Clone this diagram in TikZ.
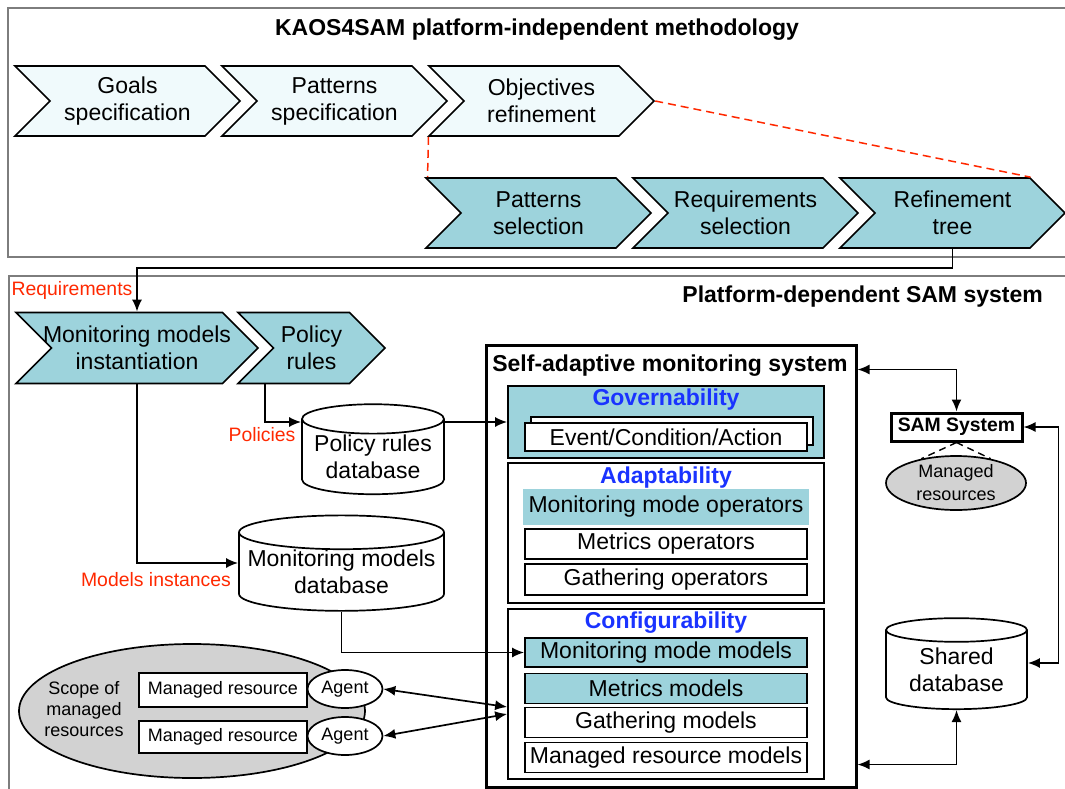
\documentclass[tikz,border=0pt]{standalone}
\usepackage{fontspec}
\setmainfont{Liberation Sans}
\usepackage{xcolor}
\usetikzlibrary{arrows.meta,positioning,shapes,shadows}

\definecolor{tealfill}{RGB}{157,211,220}
\definecolor{palefill}{RGB}{240,250,252}
\definecolor{headblue}{RGB}{26,51,255}
\definecolor{lblred}{RGB}{255,40,0}
\definecolor{framegray}{RGB}{125,125,125}
\definecolor{resgray}{RGB}{210,210,210}

\newcommand{\txtL}{\fontsize{23}{27}\selectfont}
\newcommand{\txtM}{\fontsize{19.4}{23}\selectfont}
\newcommand{\txtS}{\fontsize{18}{21}\selectfont}

\tikzset{
  chev/.style={signal, signal to=east, signal from=west, draw, minimum height=70pt, minimum width=225pt, inner sep=0pt, align=center, font=\txtL},
  box/.style={draw, rectangle, fill=white, minimum width=282pt, minimum height=30pt, inner sep=0pt, font=\txtL},
  panel/.style={draw, rectangle, minimum width=316pt, inner sep=0pt},
  db/.style={cylinder, shape border rotate=90, draw, fill=white, align=center, font=\txtL, inner sep=0pt},
  lbl/.style={text=lblred, font=\txtM},
  head/.style={text=headblue, font=\txtL\bfseries},
  small/.style={draw, fill=white, inner sep=0pt, font=\txtS},
}

\begin{document}
\begin{tikzpicture}[
    x=1pt, y=-1pt, % pixel-like units, y going down
    >={Latex[length=12pt,width=10pt]}, % filled arrow tips
    line width=1.7pt, % lines everywhere
    node distance=207pt % spacing of the chevrons
]
\useasboundingbox (0,0) rectangle (1065,789);
\clip (0,0) rectangle (1065,789);

% Frames
\draw[framegray, line width=1.5pt] (8,8) rectangle (1080,257);
\draw[framegray, line width=1.5pt] (9,276) rectangle (1080,800);

% Platform-independent part
\node[font=\txtL\bfseries] (T1) at (537,30) {KAOS4SAM platform-independent methodology};

\node[chev, fill=palefill] (GS) at (127.5,101) {Goals\\specification};
\node[chev, fill=palefill] (PS) [right of=GS] {Patterns\\specification};
\node[chev, fill=palefill] (OR) [right of=PS] {Objectives\\refinement};

\node[chev, fill=tealfill] (PSL) at (538.5,213) {Patterns\\selection};
\node[chev, fill=tealfill] (RS) [right of=PSL] {Requirements\\selection};
\node[chev, fill=tealfill] (RT) [right of=RS] {Refinement\\tree};

% Platform-dependent part
\node[font=\txtL\bfseries, anchor=east] (T2) at (1047,297) {Platform-dependent SAM system};
\node[lbl] (LR) at (72,290) {Requirements};

\node[chev, fill=tealfill, minimum width=242pt, minimum height=71pt] (MI) at (137,348) {\makebox[150pt]{Monitoring models}\\instantiation};
\node[chev, fill=tealfill, minimum width=147pt, minimum height=71pt] (PR) at (311.5,348) {Policy\\rules};

\node[db, minimum width=142pt, minimum height=90pt, aspect=0.25] (PDB) at (373,457) {Policy rules\\database};
\node[db, minimum width=205pt, minimum height=90pt, aspect=0.18] (MDB) at (341.5,572) {Monitoring models\\database};
\node[lbl] (LP) at (262,435) {Policies};
\node[lbl] (LM) at (156,580) {Models instances};

% Self-adaptive monitoring system
\node[draw, line width=3pt, minimum width=370pt, minimum height=442pt] (SAMS) at (671,566) {};
\node[font=\txtL\bfseries] (T3) at (670,366) {Self-adaptive monitoring system};

\node[panel, fill=tealfill, minimum height=72pt] (GOV) at (666,422) {};
\node[head] (GOVT) at (666,400) {Governability};
\node[box, minimum height=28pt, copy shadow={shadow xshift=6pt, shadow yshift=6pt, draw, fill=white}] (ECA) at (666,437) {Event/Condition/Action};

\node[panel, minimum height=140pt] (ADA) at (666,533) {};
\node[head] (ADAT) at (666,478) {Adaptability};
\node[box, fill=tealfill, draw=none, minimum width=286pt, minimum height=36pt] (MMO) at (666,507) {Monitoring mode operators};
\node[box] (MO) at (666,544) {Metrics operators};
\node[box, minimum height=31pt] (GO) at (666,579.5) {Gathering operators};

\node[panel, minimum height=170pt] (CON) at (666,694) {};
\node[head] (CONT) at (666,623) {Configurability};
\node[box, fill=tealfill, minimum height=29pt] (MMM) at (666,652.5) {Monitoring mode models};
\node[box, fill=tealfill, node distance=36pt] (MM) [below of=MMM] {Metrics models};
\node[box, node distance=34pt] (GM) [below of=MM] {Gathering models};
\node[box, node distance=35pt] (MRM) [below of=GM] {Managed resource models};

% SAM system and shared database
\node[draw, line width=3pt, minimum width=131pt, minimum height=28pt, inner sep=0pt, font=\txtM\bfseries] (SAM) at (956.5,427) {SAM System};
\node[ellipse, draw, fill=resgray, minimum width=140pt, minimum height=54pt, inner sep=0pt, align=center, font=\fontsize{18}{23}\selectfont] (MRS) at (956,483) {Managed\\resources};
\node[db, minimum width=141pt, minimum height=91pt, aspect=0.25] (SDB) at (956.5,670) {Shared\\database};

% Scope of managed resources
\node[ellipse, draw, fill=resgray, minimum width=346pt, minimum height=134pt] (SCOPE) at (192,711) {};
\node[align=center, font=\txtS] (SCT) at (84,709) {Scope of\\managed\\resources};
\node[small, minimum width=168pt, minimum height=34pt] (R1) at (223,690) {Managed resource};
\node[small, minimum width=168pt, minimum height=32pt] (R2) at (223,737) {Managed resource};
\node[small, ellipse, minimum width=75pt, minimum height=38pt] (AG1) at (345,689) {Agent};
\node[small, ellipse, minimum width=75pt, minimum height=38pt] (AG2) at (345,736) {Agent};
\coordinate (C1) at ([yshift=-13pt]CON.west);
\coordinate (C2) at ([yshift=-20pt]CON.west);

% Edges
\draw[lblred, dash pattern=on 8pt off 5pt, line width=1.5pt] ([xshift=-113pt]OR.south) -- ([xshift=-111pt]PSL.north);
\draw[lblred, dash pattern=on 8pt off 5pt, line width=1.5pt] (OR.east) -- ([xshift=78pt]RT.north);

\draw[->] (RT.south) -- ++(0,19) -| (MI.north);
\draw[->] (MI.south) |- ([yshift=9pt]MDB.west);
\draw[->] ([xshift=-46.5pt]PR.south) |- ([yshift=35pt]PDB.west);
\draw[->] (GOV.west -| PDB.east) -- (GOV.west);
\draw[->] (MDB.south) |- (MMM.west);

\draw[<->] (SAM.north) |- ([yshift=-26pt]SAMS.north east);
\draw[<->] (SAM.east) -- ++(35,0) |- ([yshift=7pt]SDB.east);
\draw[<->] (SDB.south) |- ([yshift=24pt]SAMS.south east);
\draw[dash pattern=on 7pt off 5pt, line width=1.4pt] (SAM.south) -- (MRS.145);
\draw[dash pattern=on 7pt off 5pt, line width=1.4pt] (SAM.south) -- (MRS.35);

\draw[<->] (AG1.east) -- (C1);
\draw[<->] (AG2.east) -- (C2);

\end{tikzpicture}
\end{document}
